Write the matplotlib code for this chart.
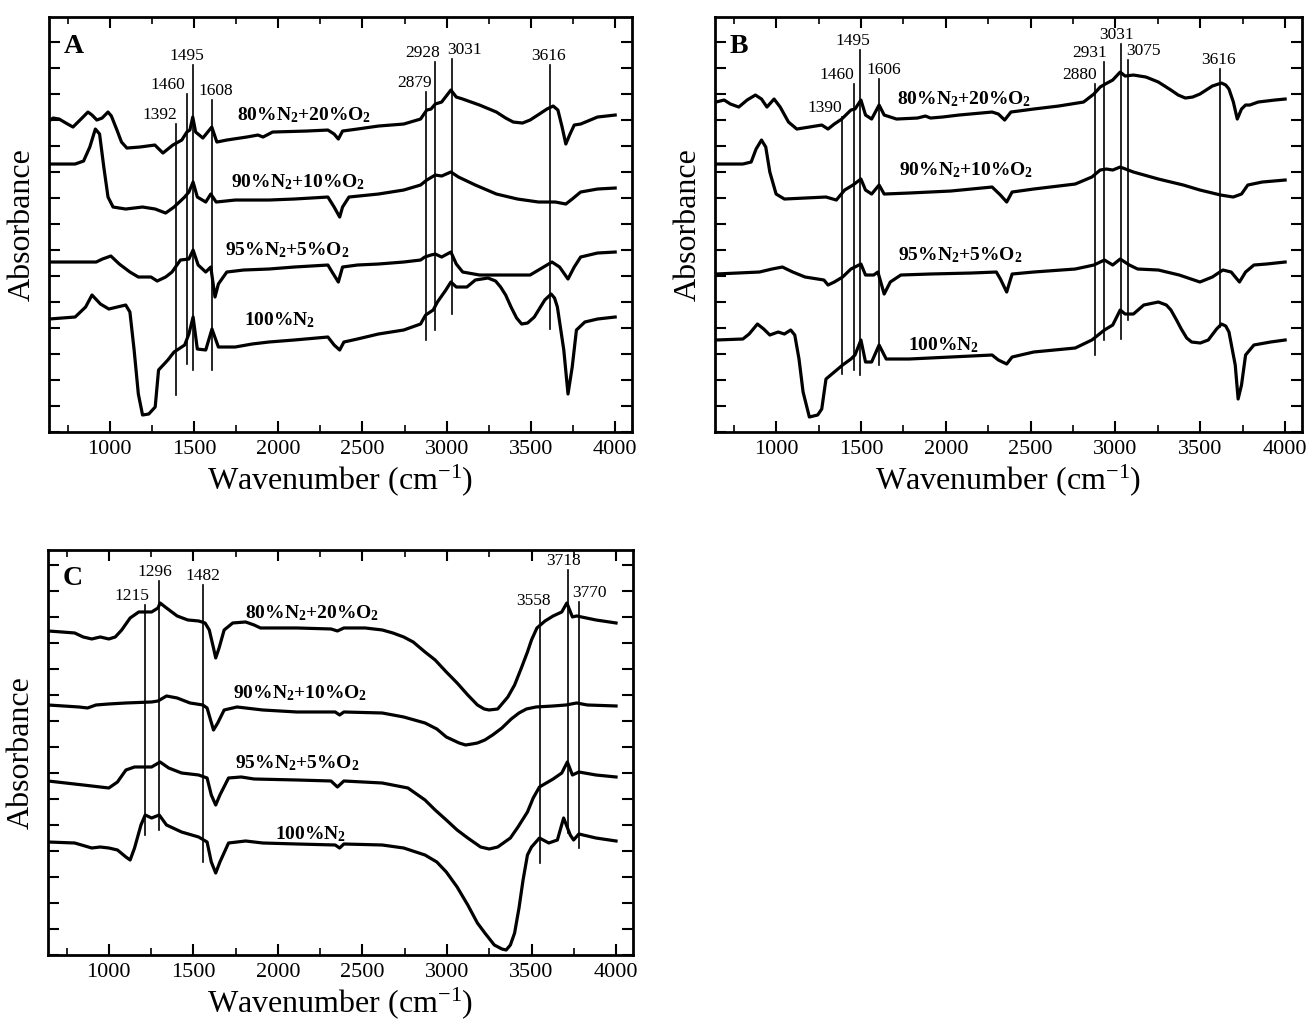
import numpy as np
import matplotlib
matplotlib.use('Agg')
import matplotlib.pyplot as plt
from matplotlib.ticker import MultipleLocator

# ---- series labels (same for every panel) ----
series_names = [r'$\mathbf{80\%N_2{+}20\%O_2}$', r'$\mathbf{90\%N_2{+}10\%O_2}$',
                r'$\mathbf{95\%N_2{+}5\%O_2}$', r'$\mathbf{100\%N_2}$']

# ---- panel A : wavenumber (cm-1) / absorbance (a.u., offset) ----
A_80_wn = [640, 664, 700, 740, 782, 830, 871, 895, 924, 955, 990, 1010, 1043, 1070, 1102, 1179, 1268, 1316,
           1375, 1428, 1458, 1476, 1493, 1510, 1553, 1606, 1636, 1695, 1813, 1880, 1910, 1967, 2169, 2295,
           2332, 2357, 2382, 2470, 2595, 2745, 2845, 2882, 2907, 2932, 2970, 3025, 3057, 3095, 3195, 3295,
           3350, 3395, 3450, 3495, 3550, 3595, 3632, 3660, 3685, 3707, 3732, 3757, 3795, 3895, 4000]
A_80_ab = [311, 314, 313, 309, 305, 313, 320, 317, 312, 314, 320, 316, 302, 290, 284, 285, 287, 279,
           287, 292, 300, 302, 315, 300, 294, 305, 290, 292, 295, 297, 295, 300, 301, 302,
           298, 293, 301, 303, 306, 308, 313, 322, 323, 328, 330, 342, 335, 333, 327, 320,
           314, 310, 309, 312, 318, 323, 326, 322, 305, 288, 298, 307, 308, 315, 317]
A_90_wn = [640, 795, 845, 882, 915, 940, 965, 990, 1020, 1095, 1195, 1270, 1332, 1382, 1445, 1470, 1495,
           1520, 1570, 1600, 1632, 1745, 1945, 2095, 2295, 2332, 2365, 2382, 2420, 2595, 2745, 2845,
           2882, 2932, 2970, 3025, 3070, 3170, 3295, 3420, 3545, 3645, 3707, 3745, 3795, 3895, 4000]
A_90_ab = [268, 268, 271, 285, 303, 298, 265, 235, 225, 223, 225, 223, 219, 225, 235, 240, 250,
           235, 230, 238, 230, 232, 232, 233, 235, 225, 215, 225, 235, 238, 242, 247,
           252, 257, 256, 260, 255, 247, 238, 233, 230, 230, 228, 233, 240, 243, 244]
A_95_wn = [640, 920, 957, 1007, 1057, 1120, 1170, 1245, 1282, 1332, 1370, 1420, 1470, 1495, 1525, 1570,
           1600, 1625, 1645, 1695, 1795, 1945, 2095, 2295, 2320, 2357, 2382, 2470, 2595, 2745, 2845,
           2870, 2907, 2932, 2970, 3025, 3057, 3095, 3195, 3345, 3495, 3595, 3625, 3670, 3720, 3757,
           3795, 3895, 4000]
A_95_ab = [170, 170, 173, 176, 168, 160, 155, 155, 151, 155, 160, 172, 173, 182, 167, 160,
           165, 135, 148, 160, 162, 163, 165, 167, 160, 150, 165, 167, 168, 170, 172,
           175, 177, 178, 175, 180, 168, 160, 157, 157, 157, 167, 170, 165, 153, 165,
           175, 179, 180]
A_100_wn = [640, 795, 857, 895, 945, 995, 1045, 1095, 1120, 1145, 1170, 1195, 1232, 1270, 1290, 1345,
            1382, 1445, 1470, 1495, 1520, 1570, 1607, 1645, 1745, 1845, 1945, 2095, 2295, 2332, 2365,
            2390, 2470, 2595, 2745, 2845, 2875, 2920, 2945, 2995, 3025, 3057, 3120, 3170, 3245, 3290,
            3320, 3350, 3382, 3415, 3445, 3480, 3520, 3582, 3620, 3640, 3657, 3695, 3720, 3745, 3770,
            3820, 3895, 4000]
A_100_ab = [113, 115, 125, 137, 128, 123, 125, 127, 120, 82, 38, 17, 18, 25, 62, 72,
            80, 87, 98, 115, 83, 82, 103, 85, 85, 88, 90, 92, 95, 87, 82,
            90, 93, 98, 102, 108, 117, 122, 130, 142, 150, 145, 145, 152, 154, 151,
            145, 137, 125, 114, 108, 109, 115, 132, 138, 134, 125, 82, 38, 65, 102,
            110, 113, 115]
A_peaks = [1392, 1460, 1495, 1608, 2879, 2928, 3031, 3616]
A_peak_top = [308, 338, 367, 332, 340, 370, 373, 367]
A_peak_bot = [37, 68, 62, 62, 92, 102, 118, 103]

# ---- panel B ----
B_80_wn = [645, 694, 731, 780, 829, 878, 914, 946, 988, 1024, 1073, 1122, 1196, 1269, 1306, 1343, 1387,
           1441, 1465, 1500, 1527, 1563, 1607, 1637, 1710, 1833, 1880, 1910, 1980, 2078, 2273, 2310,
           2347, 2384, 2518, 2665, 2812, 2873, 2910, 2940, 2984, 3028, 3057, 3106, 3180, 3253, 3327,
           3370, 3412, 3455, 3498, 3571, 3625, 3650, 3669, 3695, 3718, 3743, 3767, 3792, 3841, 3939, 4000]
B_80_ab = [330, 332, 328, 325, 332, 337, 333, 325, 333, 325, 310, 303, 305, 307, 303, 308, 313,
           322, 323, 332, 317, 313, 327, 317, 313, 314, 316, 314, 315, 317, 320, 318,
           312, 320, 323, 326, 330, 338, 345, 348, 352, 360, 356, 357, 355, 350, 342,
           337, 334, 335, 338, 346, 349, 347, 343, 330, 313, 323, 327, 327, 330, 332, 333]
B_90_wn = [645, 804, 853, 882, 914, 939, 963, 1000, 1049, 1171, 1294, 1355, 1404, 1453, 1500, 1527,
           1563, 1607, 1637, 1784, 2029, 2273, 2322, 2359, 2391, 2518, 2763, 2861, 2910, 2947, 2984,
           3028, 3106, 3253, 3400, 3498, 3620, 3694, 3743, 3780, 3865, 4000]
B_90_ab = [268, 268, 270, 283, 292, 285, 260, 238, 233, 234, 235, 232, 242, 247, 253, 242,
           238, 247, 238, 239, 241, 245, 237, 230, 240, 243, 248, 255, 262, 263, 262,
           265, 260, 253, 247, 242, 237, 235, 238, 247, 250, 252]
B_95_wn = [645, 902, 976, 1037, 1098, 1171, 1282, 1306, 1343, 1392, 1441, 1500, 1527, 1575, 1600,
           1637, 1673, 1735, 1906, 2151, 2298, 2322, 2359, 2391, 2518, 2763, 2873, 2935, 2984, 3028,
           3082, 3131, 3253, 3376, 3498, 3571, 3633, 3682, 3731, 3767, 3816, 3890, 4000]
B_95_ab = [158, 160, 163, 165, 160, 155, 152, 147, 150, 155, 163, 168, 157, 157, 160,
           138, 150, 157, 158, 159, 160, 153, 140, 158, 160, 163, 167, 172, 167, 173,
           167, 163, 162, 157, 150, 155, 162, 160, 150, 160, 167, 168, 170]
B_100_wn = [645, 804, 841, 890, 927, 963, 1012, 1049, 1086, 1110, 1135, 1159, 1196, 1245, 1269, 1294,
            1343, 1392, 1441, 1465, 1500, 1527, 1563, 1607, 1649, 1784, 2029, 2273, 2310, 2359, 2391,
            2518, 2763, 2861, 2935, 2984, 3028, 3057, 3106, 3167, 3253, 3300, 3327, 3360, 3388, 3420,
            3449, 3500, 3547, 3596, 3625, 3650, 3669, 3706, 3723, 3743, 3767, 3816, 3914, 4000]
B_100_ab = [92, 93, 98, 108, 103, 97, 100, 98, 102, 97, 73, 40, 15, 17, 23, 53,
            60, 67, 73, 77, 92, 70, 70, 87, 73, 73, 75, 77, 72, 68, 75,
            80, 84, 92, 102, 107, 122, 118, 118, 127, 130, 127, 122, 112, 103, 94,
            90, 89, 92, 103, 108, 106, 100, 67, 33, 47, 77, 87, 90, 92]
B_peaks = [1390, 1460, 1495, 1606, 2880, 2931, 3031, 3075, 3616]
B_peak_top = [315, 348, 382, 353, 348, 370, 388, 372, 363]
B_peak_bot = [58, 62, 57, 67, 77, 92, 93, 112, 105]

# ---- panel C ----
C_80_wn = [640, 722, 798, 848, 899, 949, 1000, 1038, 1076, 1126, 1177, 1253, 1291, 1303, 1341, 1404,
           1467, 1531, 1569, 1594, 1619, 1632, 1652, 1682, 1733, 1809, 1859, 1897, 1960, 2112, 2314,
           2352, 2390, 2516, 2617, 2680, 2744, 2800, 2870, 2930, 2996, 3060, 3123, 3180, 3220, 3249,
           3300, 3360, 3400, 3440, 3476, 3500, 3532, 3580, 3628, 3679, 3709, 3742, 3767, 3881, 4000]
C_80_ab = [324, 323, 322, 318, 316, 318, 316, 318, 325, 337, 343, 343, 347, 352, 347, 339,
           335, 334, 332, 325, 307, 297, 307, 325, 332, 333, 330, 327, 327, 327, 326,
           324, 327, 327, 325, 322, 318, 313, 303, 295, 283, 272, 260, 250, 246, 245,
           246, 258, 270, 287, 303, 315, 327, 334, 339, 343, 352, 338, 339, 335, 332]
C_90_wn = [640, 823, 874, 924, 1000, 1101, 1253, 1291, 1341, 1404, 1480, 1556, 1581, 1619, 1644, 1682,
           1758, 1910, 2112, 2339, 2365, 2390, 2617, 2744, 2870, 2940, 2996, 3072, 3110, 3148, 3180,
           3224, 3270, 3325, 3380, 3426, 3470, 3527, 3628, 3704, 3767, 3830, 4000]
C_90_ab = [250, 248, 247, 250, 251, 252, 253, 254, 259, 257, 252, 250, 247, 225, 232, 245,
           248, 245, 243, 243, 240, 243, 242, 238, 232, 226, 218, 212, 210, 211, 212,
           215, 220, 227, 236, 242, 246, 248, 249, 250, 252, 250, 249]
C_95_wn = [640, 848, 1000, 1051, 1101, 1152, 1253, 1303, 1354, 1430, 1531, 1581, 1606, 1632, 1657,
           1708, 1783, 1859, 2112, 2314, 2352, 2390, 2617, 2769, 2870, 2930, 2996, 3060, 3123, 3199,
           3250, 3300, 3375, 3420, 3476, 3510, 3547, 3628, 3679, 3712, 3742, 3780, 3881, 4000]
C_95_ab = [174, 170, 167, 173, 185, 188, 188, 193, 187, 182, 180, 177, 160, 150, 160,
           177, 178, 176, 175, 174, 168, 174, 172, 167, 155, 145, 135, 125, 117, 108,
           106, 108, 117, 128, 143, 157, 168, 176, 182, 193, 180, 183, 180, 178]
C_100_wn = [640, 798, 899, 949, 1000, 1051, 1101, 1126, 1152, 1190, 1215, 1253, 1298, 1341, 1430, 1531,
            1581, 1606, 1632, 1657, 1708, 1809, 1910, 2112, 2339, 2365, 2390, 2617, 2744, 2870, 2940,
            2996, 3060, 3123, 3180, 3224, 3280, 3325, 3350, 3375, 3400, 3426, 3450, 3476, 3500, 3547,
            3602, 3653, 3690, 3729, 3749, 3780, 3881, 4000]
C_100_ab = [113, 112, 107, 108, 107, 105, 98, 95, 107, 130, 140, 137, 140, 130, 123, 118,
            113, 93, 82, 93, 112, 114, 112, 111, 110, 107, 111, 110, 107, 100, 93,
            83, 68, 50, 32, 22, 10, 6, 5, 10, 22, 47, 75, 100, 108, 117,
            112, 115, 137, 120, 115, 121, 117, 114]
C_peaks = [1215, 1296, 1556, 3551, 3718, 3778]
C_peak_text = ['1215', '1296', '1482', '3558', '3718', '3770']
C_peak_top = [350, 374, 370, 345, 385, 353]
C_peak_bot = [120, 125, 93, 92, 122, 107]

# ---- style ----
plt.rcParams['font.family'] = ['Liberation Serif', 'DejaVu Serif']
plt.rcParams['mathtext.fontset'] = 'custom'
plt.rcParams['mathtext.rm'] = 'Liberation Serif'
plt.rcParams['mathtext.it'] = 'Liberation Serif:italic'
plt.rcParams['mathtext.bf'] = 'Liberation Serif:bold'

fig = plt.figure(figsize=(13.11, 10.33), dpi=100)
axA = fig.add_axes([0.0374, 0.5818, 0.4447, 0.4017])
axB = fig.add_axes([0.5454, 0.5818, 0.4478, 0.4017])
axC = fig.add_axes([0.0366, 0.0755, 0.4462, 0.3921])


def draw_panel(ax, letter, curves, peaks, tops, bots, texts, text_dx, name_xy, ytop):
    for wn, ab in curves:
        ax.plot(wn, ab, color='black', lw=2.3, solid_joinstyle='round')
    for p, t, b, s, dx in zip(peaks, tops, bots, texts, text_dx):
        ax.plot([p, p], [b, t], color='black', lw=1.2)
        ax.text(p + dx, t + 1, s, ha='center', va='bottom', fontsize=12.5)
    for name, (x, y) in zip(series_names, name_xy):
        ax.text(x, y, name, ha='left', va='center', fontsize=14)
    ax.text(0.025, 0.96, letter, transform=ax.transAxes, ha='left', va='top',
            fontsize=20, fontweight='bold')
    ax.set_xlim(640, 4100)
    ax.set_ylim(0, ytop)
    ax.xaxis.set_minor_locator(MultipleLocator(250))
    ax.set_xticks([1000, 1500, 2000, 2500, 3000, 3500, 4000])
    ax.yaxis.set_major_locator(MultipleLocator(26))
    ax.set_yticklabels([])
    ax.tick_params(axis='both', which='major', direction='in', length=8, width=1.5,
                   top=True, right=True, labelsize=16)
    ax.tick_params(axis='both', which='minor', direction='in', length=5, width=1.2,
                   top=True, right=True)
    ax.tick_params(axis='x', pad=6)
    for sp in ax.spines.values():
        sp.set_linewidth(2.0)
    ax.set_xlabel(r'Wavenumber (cm$^{-1}$)', fontsize=23, labelpad=2)
    ax.set_ylabel('Absorbance', fontsize=23, labelpad=5)


draw_panel(axA, 'A',
           [(A_80_wn, A_80_ab), (A_90_wn, A_90_ab), (A_95_wn, A_95_ab), (A_100_wn, A_100_ab)],
           A_peaks, A_peak_top, A_peak_bot, [str(p) for p in A_peaks],
           [-97, -115, -38, 24, -72, -71, 76, -9],
           [(1757, 317), (1720, 250), (1682, 182), (1795, 112)], 415)
draw_panel(axB, 'B',
           [(B_80_wn, B_80_ab), (B_90_wn, B_90_ab), (B_95_wn, B_95_ab), (B_100_wn, B_100_ab)],
           B_peaks, B_peak_top, B_peak_bot, [str(p) for p in B_peaks],
           [-101, -105, -42, 31, -92, -82, -23, 92, -8],
           [(1715, 333), (1722, 262), (1718, 177), (1776, 87)], 415)
draw_panel(axC, 'C',
           [(C_80_wn, C_80_ab), (C_90_wn, C_90_ab), (C_95_wn, C_95_ab), (C_100_wn, C_100_ab)],
           C_peaks, C_peak_top, C_peak_bot, C_peak_text,
           [-76, -24, 0, -39, -28, 62],
           [(1804, 342), (1733, 262), (1745, 192), (1980, 121)], 405)

fig.savefig('out.png', dpi=100)
